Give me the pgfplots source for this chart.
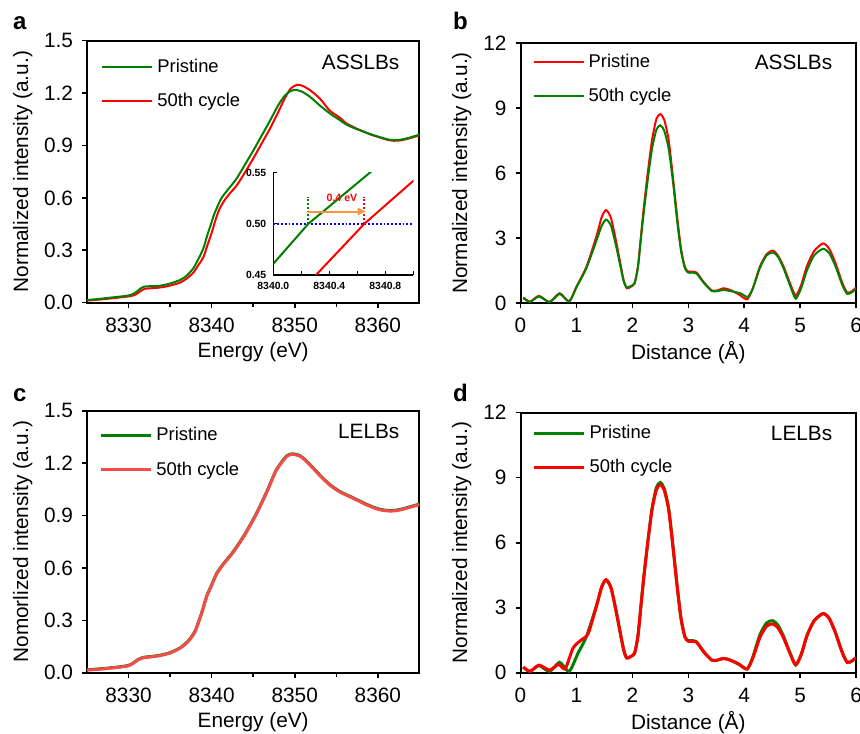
\documentclass[border=0pt]{standalone}
\usepackage{fontspec}
\setmainfont{Liberation Sans}
\usepackage{pgfplots}
\pgfplotsset{compat=1.18}
\usetikzlibrary{arrows.meta}

\definecolor{pgreen}{RGB}{0,128,0}
\definecolor{pred}{RGB}{255,0,0}
\definecolor{lred}{RGB}{245,75,75}
\definecolor{arrowc}{RGB}{245,150,60}

\pgfplotsset{
  panel/.style={
    scale only axis,
    axis line style={line width=1pt},
    tick style={line width=0.8pt, black},
    tick align=outside,
    tick pos=left,
    major tick length=2.5pt, minor tick length=2pt,
    /pgf/number format/assume math mode=true,
    /pgf/number format/1000 sep={},
    tick label style={font=\fontsize{10.4}{12}\selectfont},
    x tick label style={yshift=-1.5pt},
    y tick label style={xshift=-1pt},
    label style={font=\fontsize{10.4}{12}\selectfont},
    legend style={draw=none, fill=none, font=\fontsize{9.2}{11}\selectfont,
      anchor=north west, inner sep=0pt, row sep=5pt},
    legend cell align=left,
    legend image code/.code={\draw[##1] (0pt,0pt) -- (25pt,0pt);},
    every axis plot/.append style={smooth, tension=0.4},
  },
  energy/.style={
    panel, width=166.2pt, height=131pt,
    xmin=8325, xmax=8365, ymin=0, ymax=1.5,
    xtick={8330,8340,8350,8360}, minor xtick={8335,8345,8355},
    ytick={0,0.3,0.6,0.9,1.2,1.5},
    y tick label style={/pgf/number format/.cd, fixed, fixed zerofill, precision=1, /tikz/.cd},
    xlabel={Energy (eV)},
    x label style={at={(axis description cs:0.5,-0.187)}, anchor=center},
    y label style={at={(axis description cs:-0.193,0.5)}, anchor=center},
  },
  dist/.style={
    panel, width=167.8pt, height=130pt,
    xmin=0, xmax=6, ymin=0, ymax=12,
    xtick={0,1,2,3,4,5,6}, ytick={0,3,6,9,12},
    xlabel={Distance (Å)}, ylabel={Normalized intensity (a.u.)},
    x label style={at={(axis description cs:0.5,-0.19)}, anchor=center},
    y label style={at={(axis description cs:-0.175,0.5)}, anchor=center},
  },
}

\begin{document}
\begin{tikzpicture}
\useasboundingbox (0pt,0pt) rectangle (430pt,366.5pt);

% panel a
\begin{axis}[energy, at={(43.5pt,215.15pt)}, anchor=south west,
  ylabel={Normalized intensity (a.u.)},
  legend style={at={(axis description cs:0.042,0.947)}},
  reverse legend]
\addplot[pred, line width=1pt] coordinates {
(8325,0.012)(8326.5,0.018)(8328,0.025)(8329.5,0.033)(8330.3,0.038)(8330.9,0.048)
(8331.5,0.068)(8332,0.08)(8332.8,0.083)(8333.8,0.087)(8335,0.098)(8336.2,0.115)
(8337,0.138)(8337.8,0.172)(8338.4,0.215)(8339,0.26)(8339.5,0.33)(8340,0.40)
(8340.3,0.448)(8340.65,0.5)(8341,0.542)(8341.6,0.59)(8342.3,0.632)(8343,0.67)
(8344,0.745)(8345,0.825)(8346,0.91)(8347,0.995)(8348,1.09)(8348.8,1.17)
(8349.5,1.225)(8350.3,1.248)(8351,1.24)(8351.8,1.218)(8353,1.17)(8354.2,1.1)
(8355.4,1.06)(8356.2,1.027)(8357.3,1.0)(8358.3,0.979)(8359.3,0.96)(8360.3,0.945)
(8361.2,0.932)(8361.9,0.927)(8362.7,0.929)(8363.5,0.937)(8364.3,0.948)(8365,0.958)};
\addlegendentry{50th cycle}
\addplot[pgreen, line width=1pt] coordinates {
(8325,0.015)(8326.5,0.022)(8328,0.03)(8329.5,0.038)(8330.3,0.045)(8330.9,0.06)
(8331.4,0.08)(8331.9,0.092)(8332.8,0.095)(8333.8,0.097)(8335,0.11)(8336.2,0.13)
(8337,0.155)(8337.8,0.197)(8338.4,0.25)(8339,0.31)(8339.5,0.39)(8340,0.461)
(8340.25,0.5)(8340.69,0.55)(8341.2,0.6)(8342,0.65)(8343,0.71)(8344,0.79)
(8345,0.87)(8346,0.955)(8347,1.04)(8348,1.13)(8348.8,1.185)(8349.5,1.212)
(8350.1,1.218)(8350.8,1.21)(8351.8,1.18)(8353,1.13)(8354.2,1.084)(8355.4,1.046)
(8356.2,1.02)(8357.3,0.997)(8358.3,0.979)(8359.3,0.962)(8360.3,0.947)(8361.2,0.935)
(8361.9,0.931)(8362.7,0.933)(8363.5,0.941)(8364.3,0.952)(8365,0.962)};
\addlegendentry{Pristine}
\node[anchor=east, font=\fontsize{10.4}{12}\selectfont] at (rel axis cs:0.961,0.916) {ASSLBs};
\end{axis}

% inset of panel a
\begin{axis}[at={(136.67pt,229pt)}, anchor=south west, scale only axis,
  width=70pt, height=51.2pt,
  axis lines=left, axis line style={-, line width=0.8pt},
  tick style={line width=0.6pt, black}, tick align=inside,
  major tick length=2pt, minor tick length=2pt,
  xmin=8340, xmax=8341, ymin=0.45, ymax=0.55,
  xtick={8340,8340.4,8340.8}, minor xtick={8340.2,8340.6,8341},
  ytick={0.45,0.5,0.55},
  scaled x ticks=false, scaled y ticks=false,
  /pgf/number format/assume math mode=true,
  tick label style={font=\bfseries\fontsize{5.2}{6}\selectfont},
  x tick label style={/pgf/number format/.cd, fixed, fixed zerofill, precision=1, 1000 sep={}, /tikz/.cd},
  y tick label style={/pgf/number format/.cd, fixed, fixed zerofill, precision=2, /tikz/.cd}]
\addplot[blue, densely dotted, line width=0.9pt] coordinates {(8340,0.5)(8341,0.5)};
\addplot[pgreen, line width=1pt] coordinates {(8340,0.461)(8340.25,0.5)(8340.69,0.55)(8340.75,0.557)};
\addplot[pred, line width=1pt] coordinates {(8340.27,0.445)(8340.65,0.5)(8341,0.542)(8341.05,0.547)};
\addplot[pgreen, densely dotted, line width=0.9pt] coordinates {(8340.25,0.5)(8340.25,0.526)};
\addplot[pred, densely dotted, line width=0.9pt] coordinates {(8340.65,0.5)(8340.65,0.526)};
\addplot[arrowc, line width=1pt, -{Triangle[length=4pt,width=3.5pt]}] coordinates {(8340.25,0.512)(8340.66,0.512)};
\node[pred, font=\bfseries\fontsize{5.3}{6}\selectfont] at (axis cs:8340.49,0.525) {0.4 eV};
\end{axis}

% panel b
\begin{axis}[dist, at={(260.25pt,215pt)}, anchor=south west,
  legend style={at={(axis description cs:0.035,0.975)}}]
\addplot[pred, line width=1pt] coordinates {
(0.05,0.26)(0.17,0.06)(0.33,0.33)(0.52,0.05)(0.7,0.45)(0.87,0.08)(1.0,0.75)
(1.18,1.68)(1.36,3.1)(1.45,3.95)(1.53,4.29)(1.62,3.9)(1.72,2.7)(1.84,1.1)
(1.9,0.68)(1.97,0.75)(2.04,0.9)(2.1,1.7)(2.15,3.0)(2.2,4.3)(2.27,5.9)(2.35,7.5)
(2.43,8.5)(2.5,8.72)(2.57,8.45)(2.65,7.5)(2.73,5.7)(2.8,4.0)(2.87,2.5)(2.94,1.65)
(3.0,1.45)(3.07,1.45)(3.15,1.4)(3.28,0.95)(3.42,0.58)(3.52,0.58)(3.63,0.68)
(3.75,0.6)(3.9,0.4)(4.05,0.17)(4.15,0.65)(4.28,1.68)(4.4,2.25)(4.51,2.42)
(4.6,2.2)(4.7,1.7)(4.82,0.9)(4.92,0.33)(5.02,0.85)(5.12,1.7)(5.25,2.4)(5.41,2.75)
(5.52,2.5)(5.63,1.85)(5.75,0.95)(5.84,0.48)(5.93,0.55)(6.0,0.72)};
\addlegendentry{Pristine}
\addplot[pgreen, line width=1pt] coordinates {
(0.05,0.22)(0.17,0.05)(0.33,0.3)(0.52,0.04)(0.7,0.42)(0.87,0.06)(1.0,0.72)
(1.18,1.62)(1.36,2.9)(1.45,3.55)(1.53,3.85)(1.62,3.55)(1.72,2.5)(1.84,1.05)
(1.9,0.72)(1.97,0.78)(2.04,0.92)(2.1,1.65)(2.15,2.9)(2.2,4.1)(2.27,5.6)(2.35,7.1)
(2.43,8.0)(2.5,8.2)(2.57,7.95)(2.65,7.1)(2.73,5.5)(2.8,3.8)(2.87,2.4)(2.94,1.6)
(3.0,1.4)(3.07,1.4)(3.15,1.35)(3.28,0.92)(3.42,0.55)(3.52,0.55)(3.63,0.6)
(3.75,0.55)(3.93,0.45)(4.06,0.28)(4.15,0.65)(4.28,1.62)(4.4,2.2)(4.51,2.33)
(4.6,2.15)(4.7,1.62)(4.82,0.8)(4.92,0.2)(5.02,0.7)(5.12,1.5)(5.25,2.2)(5.41,2.5)
(5.52,2.3)(5.63,1.7)(5.75,0.85)(5.84,0.42)(5.93,0.5)(6.0,0.68)};
\addlegendentry{50th cycle}
\node[anchor=east, font=\fontsize{10.4}{12}\selectfont] at (rel axis cs:0.95,0.924) {ASSLBs};
\end{axis}

% panel c
\begin{axis}[energy, at={(43.5pt,30.15pt)}, anchor=south west,
  ylabel={Nomorlized intensity (a.u.)},
  legend style={at={(axis description cs:0.036,0.953)}}]
\addplot[pgreen, line width=1.5pt] coordinates {
(8325,0.017)(8327,0.024)(8329,0.034)(8330,0.042)(8330.6,0.057)(8331.2,0.077)
(8331.8,0.088)(8332.6,0.092)(8333.8,0.1)(8335,0.115)(8336.2,0.142)(8337.2,0.183)
(8338,0.238)(8338.8,0.343)(8339.4,0.438)(8340,0.503)(8340.6,0.568)(8341.4,0.623)
(8342.6,0.693)(8344,0.793)(8345.4,0.913)(8346.6,1.033)(8347.8,1.163)(8349,1.24)
(8349.7,1.253)(8350.6,1.243)(8351.4,1.213)(8352.2,1.173)(8353.2,1.123)(8354.2,1.078)
(8355.4,1.038)(8356.6,1.011)(8357.6,0.988)(8358.6,0.965)(8359.5,0.947)(8360.3,0.935)
(8361.2,0.929)(8361.9,0.929)(8362.7,0.935)(8363.5,0.945)(8364.3,0.956)(8365,0.965)};
\addlegendentry{Pristine}
\addplot[lred, line width=1.5pt] coordinates {
(8325,0.015)(8327,0.022)(8329,0.032)(8330,0.04)(8330.6,0.055)(8331.2,0.075)
(8331.8,0.086)(8332.6,0.09)(8333.8,0.098)(8335,0.113)(8336.2,0.14)(8337.2,0.18)
(8338,0.235)(8338.8,0.34)(8339.4,0.435)(8340,0.5)(8340.6,0.565)(8341.4,0.62)
(8342.6,0.69)(8344,0.79)(8345.4,0.91)(8346.6,1.03)(8347.8,1.16)(8349,1.237)
(8349.7,1.25)(8350.6,1.24)(8351.4,1.21)(8352.2,1.17)(8353.2,1.12)(8354.2,1.075)
(8355.4,1.035)(8356.6,1.008)(8357.6,0.985)(8358.6,0.962)(8359.5,0.944)(8360.3,0.932)
(8361.2,0.926)(8361.9,0.926)(8362.7,0.932)(8363.5,0.942)(8364.3,0.953)(8365,0.962)};
\addlegendentry{50th cycle}
\node[anchor=east, font=\fontsize{10.4}{12}\selectfont] at (rel axis cs:0.961,0.92) {LELBs};
\end{axis}

% panel d
\begin{axis}[dist, at={(260.25pt,30.15pt)}, anchor=south west,
  legend style={at={(axis description cs:0.035,0.97)}}]
\addplot[pgreen, line width=1.5pt] coordinates {
(0.05,0.26)(0.17,0.06)(0.33,0.33)(0.52,0.06)(0.7,0.48)(0.87,0.06)(1.03,0.91)
(1.18,1.68)(1.36,3.1)(1.45,3.95)(1.53,4.29)(1.62,3.9)(1.72,2.7)(1.84,1.1)
(1.9,0.68)(1.97,0.75)(2.04,0.9)(2.1,1.7)(2.15,3.0)(2.2,4.3)(2.27,5.9)(2.35,7.55)
(2.43,8.55)(2.5,8.78)(2.57,8.5)(2.65,7.55)(2.73,5.75)(2.8,4.0)(2.87,2.5)(2.94,1.65)
(3.0,1.48)(3.07,1.48)(3.15,1.42)(3.28,0.95)(3.42,0.58)(3.52,0.58)(3.63,0.66)
(3.75,0.58)(3.9,0.4)(4.05,0.17)(4.15,0.7)(4.28,1.75)(4.4,2.3)(4.51,2.4)
(4.6,2.2)(4.7,1.7)(4.82,0.9)(4.92,0.36)(5.02,0.85)(5.12,1.7)(5.25,2.4)(5.41,2.73)
(5.52,2.5)(5.63,1.85)(5.75,0.95)(5.84,0.48)(5.93,0.55)(6.0,0.7)};
\addlegendentry{Pristine}
\addplot[pred, line width=1.5pt] coordinates {
(0.05,0.26)(0.17,0.06)(0.33,0.35)(0.52,0.12)(0.68,0.38)(0.8,0.18)(0.94,1.14)
(1.09,1.52)(1.21,1.8)(1.36,3.1)(1.45,3.95)(1.53,4.29)(1.62,3.9)(1.72,2.7)(1.84,1.1)
(1.9,0.68)(1.97,0.75)(2.04,0.9)(2.1,1.7)(2.15,3.0)(2.2,4.3)(2.27,5.9)(2.35,7.5)
(2.43,8.45)(2.5,8.68)(2.57,8.42)(2.65,7.5)(2.73,5.7)(2.8,4.0)(2.87,2.5)(2.94,1.65)
(3.0,1.45)(3.07,1.45)(3.15,1.4)(3.28,0.95)(3.42,0.58)(3.52,0.58)(3.63,0.66)
(3.75,0.58)(3.9,0.4)(4.05,0.17)(4.15,0.65)(4.28,1.62)(4.4,2.15)(4.51,2.25)
(4.6,2.08)(4.7,1.62)(4.82,0.88)(4.92,0.36)(5.02,0.85)(5.12,1.7)(5.25,2.4)(5.41,2.73)
(5.52,2.5)(5.63,1.85)(5.75,0.95)(5.84,0.48)(5.93,0.55)(6.0,0.7)};
\addlegendentry{50th cycle}
\node[anchor=east, font=\fontsize{10.4}{12}\selectfont] at (rel axis cs:0.95,0.922) {LELBs};
\end{axis}

% panel letters
\node[anchor=base west, inner sep=0pt, font=\bfseries\fontsize{12}{14}\selectfont] at (6.35pt,351.5pt) {a};
\node[anchor=base west, inner sep=0pt, font=\bfseries\fontsize{12}{14}\selectfont] at (226.35pt,351.5pt) {b};
\node[anchor=base west, inner sep=0pt, font=\bfseries\fontsize{12}{14}\selectfont] at (6.35pt,165.5pt) {c};
\node[anchor=base west, inner sep=0pt, font=\bfseries\fontsize{12}{14}\selectfont] at (226.35pt,165.6pt) {d};
\end{tikzpicture}
\end{document}
